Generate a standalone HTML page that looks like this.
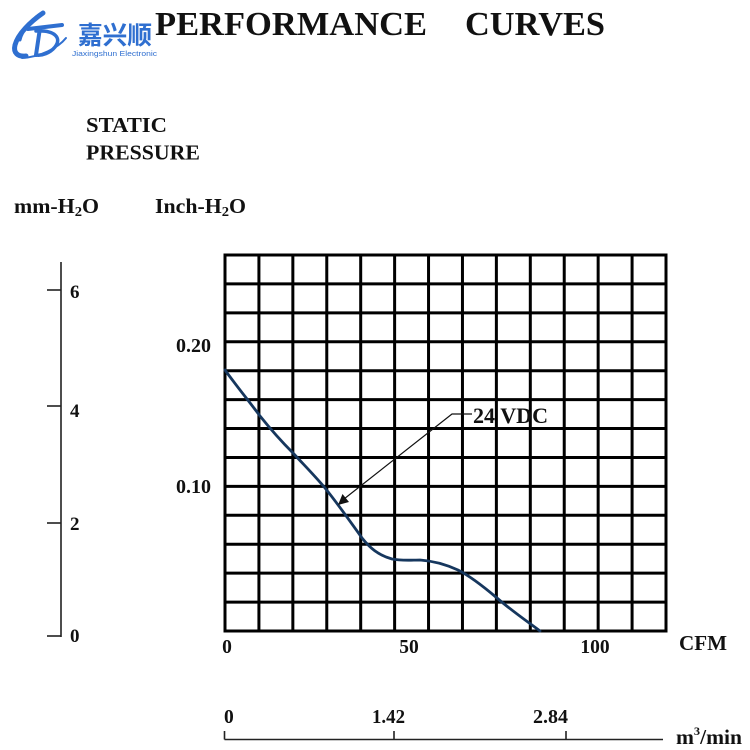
<!DOCTYPE html>
<html><head><meta charset="utf-8"><style>
html,body{margin:0;padding:0;background:#fff;}
svg{display:block;}
text{font-family:"Liberation Serif",serif;font-weight:bold;fill:#111;}
</style></head><body>
<svg width="750" height="750" viewBox="0 0 750 750" xmlns="http://www.w3.org/2000/svg">
<rect width="750" height="750" fill="#fff"/>
<!-- logo -->
<g fill="none" stroke="#2f6fd0" stroke-linecap="round">
  <path d="M43 13 C30 22 18 34 15 45 C13 53 18 57 26 56" stroke-width="5"/>
  <path d="M40 14 C32 20 22 30 20 40" stroke-width="3"/>
  <path d="M28 29 L62 25" stroke-width="4"/>
  <path d="M40 28 L36 55" stroke-width="4"/>
  <path d="M36 31 C55 30 62 38 55 47 C50 53 42 56 36 55" stroke-width="3.5"/>
  <path d="M22 58 C40 57 58 48 66 38" stroke-width="2"/>
</g>
<text x="78" y="44" font-size="25" textLength="74" lengthAdjust="spacingAndGlyphs" style="font-family:'Liberation Sans','Noto Sans CJK SC',sans-serif;fill:#2f6fd0;font-weight:bold">嘉兴顺</text>
<text x="72" y="56" font-size="7.5" textLength="85" lengthAdjust="spacingAndGlyphs" style="font-family:'Liberation Sans',sans-serif;fill:#2f6fd0;font-weight:normal">Jiaxingshun Electronic</text>
<!-- title -->
<text x="155" y="35" font-size="34" textLength="272" lengthAdjust="spacingAndGlyphs">PERFORMANCE</text>
<text x="465" y="35" font-size="34" textLength="140" lengthAdjust="spacingAndGlyphs">CURVES</text>
<!-- labels -->
<text x="86" y="132" font-size="21" textLength="81" lengthAdjust="spacingAndGlyphs">STATIC</text>
<text x="86" y="159.5" font-size="21" textLength="114" lengthAdjust="spacingAndGlyphs">PRESSURE</text>
<text x="14" y="213" font-size="21" textLength="85" lengthAdjust="spacingAndGlyphs">mm-H<tspan font-size="14" dy="3">2</tspan><tspan dy="-3">O</tspan></text>
<text x="155" y="213" font-size="21" textLength="91" lengthAdjust="spacingAndGlyphs">Inch-H<tspan font-size="14" dy="3">2</tspan><tspan dy="-3">O</tspan></text>
<!-- mm axis -->
<g stroke="#222" stroke-width="1.6">
  <line x1="61" y1="262" x2="61" y2="637"/>
  <line x1="47" y1="290" x2="61" y2="290"/>
  <line x1="47" y1="406" x2="61" y2="406"/>
  <line x1="47" y1="523" x2="61" y2="523"/>
  <line x1="47" y1="636" x2="61" y2="636"/>
</g>
<text x="70" y="298" font-size="19">6</text>
<text x="70" y="417" font-size="19">4</text>
<text x="70" y="530" font-size="19">2</text>
<text x="70" y="642" font-size="19">0</text>
<!-- inch labels -->
<text x="176" y="352" font-size="19.5" textLength="35" lengthAdjust="spacingAndGlyphs">0.20</text>
<text x="176" y="493" font-size="19.5" textLength="35" lengthAdjust="spacingAndGlyphs">0.10</text>
<!-- grid -->
<g stroke="#000" stroke-width="3" stroke-linecap="square">
  <line x1="225" y1="255" x2="225" y2="631"/>
  <line x1="258.92" y1="255" x2="258.92" y2="631"/>
  <line x1="292.85" y1="255" x2="292.85" y2="631"/>
  <line x1="326.77" y1="255" x2="326.77" y2="631"/>
  <line x1="360.69" y1="255" x2="360.69" y2="631"/>
  <line x1="394.62" y1="255" x2="394.62" y2="631"/>
  <line x1="428.54" y1="255" x2="428.54" y2="631"/>
  <line x1="462.46" y1="255" x2="462.46" y2="631"/>
  <line x1="496.38" y1="255" x2="496.38" y2="631"/>
  <line x1="530.31" y1="255" x2="530.31" y2="631"/>
  <line x1="564.23" y1="255" x2="564.23" y2="631"/>
  <line x1="598.15" y1="255" x2="598.15" y2="631"/>
  <line x1="632.08" y1="255" x2="632.08" y2="631"/>
  <line x1="666" y1="255" x2="666" y2="631"/>
  <line x1="225" y1="255" x2="666" y2="255"/>
  <line x1="225" y1="283.92" x2="666" y2="283.92"/>
  <line x1="225" y1="312.85" x2="666" y2="312.85"/>
  <line x1="225" y1="341.77" x2="666" y2="341.77"/>
  <line x1="225" y1="370.69" x2="666" y2="370.69"/>
  <line x1="225" y1="399.62" x2="666" y2="399.62"/>
  <line x1="225" y1="428.54" x2="666" y2="428.54"/>
  <line x1="225" y1="457.46" x2="666" y2="457.46"/>
  <line x1="225" y1="486.38" x2="666" y2="486.38"/>
  <line x1="225" y1="515.31" x2="666" y2="515.31"/>
  <line x1="225" y1="544.23" x2="666" y2="544.23"/>
  <line x1="225" y1="573.15" x2="666" y2="573.15"/>
  <line x1="225" y1="602.08" x2="666" y2="602.08"/>
  <line x1="225" y1="631" x2="666" y2="631"/>
</g>
<!-- curve -->
<path d="M225 370 C235 384 248 400 260 416 C272 431 283 443 293 453 C305 466 315 476 325 488 C338 504 352 524 362 538 C370 548 378 555 392 559 C402 561 412 560 420 560 C435 561 447 565 458 570 C470 576 484 587 497 598 C512 611 528 622 540 631" fill="none" stroke="#16375e" stroke-width="2.8" stroke-linecap="round" stroke-linejoin="round"/>
<!-- leader -->
<g stroke="#111" stroke-width="1.2" fill="none">
  <polyline points="472,414 452,414 344,499"/>
</g>
<polygon points="338,505 342.5,494 349,502" fill="#111"/>
<text x="473" y="423" font-size="22" textLength="75" lengthAdjust="spacingAndGlyphs">24 VDC</text>
<!-- CFM labels -->
<text x="227" y="653" font-size="19.5" text-anchor="middle">0</text>
<text x="409" y="653" font-size="19.5" text-anchor="middle">50</text>
<text x="595" y="653" font-size="19.5" text-anchor="middle">100</text>
<text x="679" y="650" font-size="21" textLength="48" lengthAdjust="spacingAndGlyphs">CFM</text>
<!-- m3/min axis -->
<g stroke="#222" stroke-width="1.6">
  <line x1="224.5" y1="739.5" x2="663" y2="739.5"/>
  <line x1="224.5" y1="731" x2="224.5" y2="739.5"/>
  <line x1="394" y1="731" x2="394" y2="739.5"/>
  <line x1="566" y1="731" x2="566" y2="739.5"/>
</g>
<text x="224" y="723" font-size="19.5">0</text>
<text x="372" y="723" font-size="19.5" textLength="33" lengthAdjust="spacingAndGlyphs">1.42</text>
<text x="533" y="723" font-size="19.5" textLength="35" lengthAdjust="spacingAndGlyphs">2.84</text>
<text x="676" y="744" font-size="21" textLength="66" lengthAdjust="spacingAndGlyphs">m<tspan font-size="12" dy="-9">3</tspan><tspan dy="9">/min</tspan></text>
</svg>
</body></html>
